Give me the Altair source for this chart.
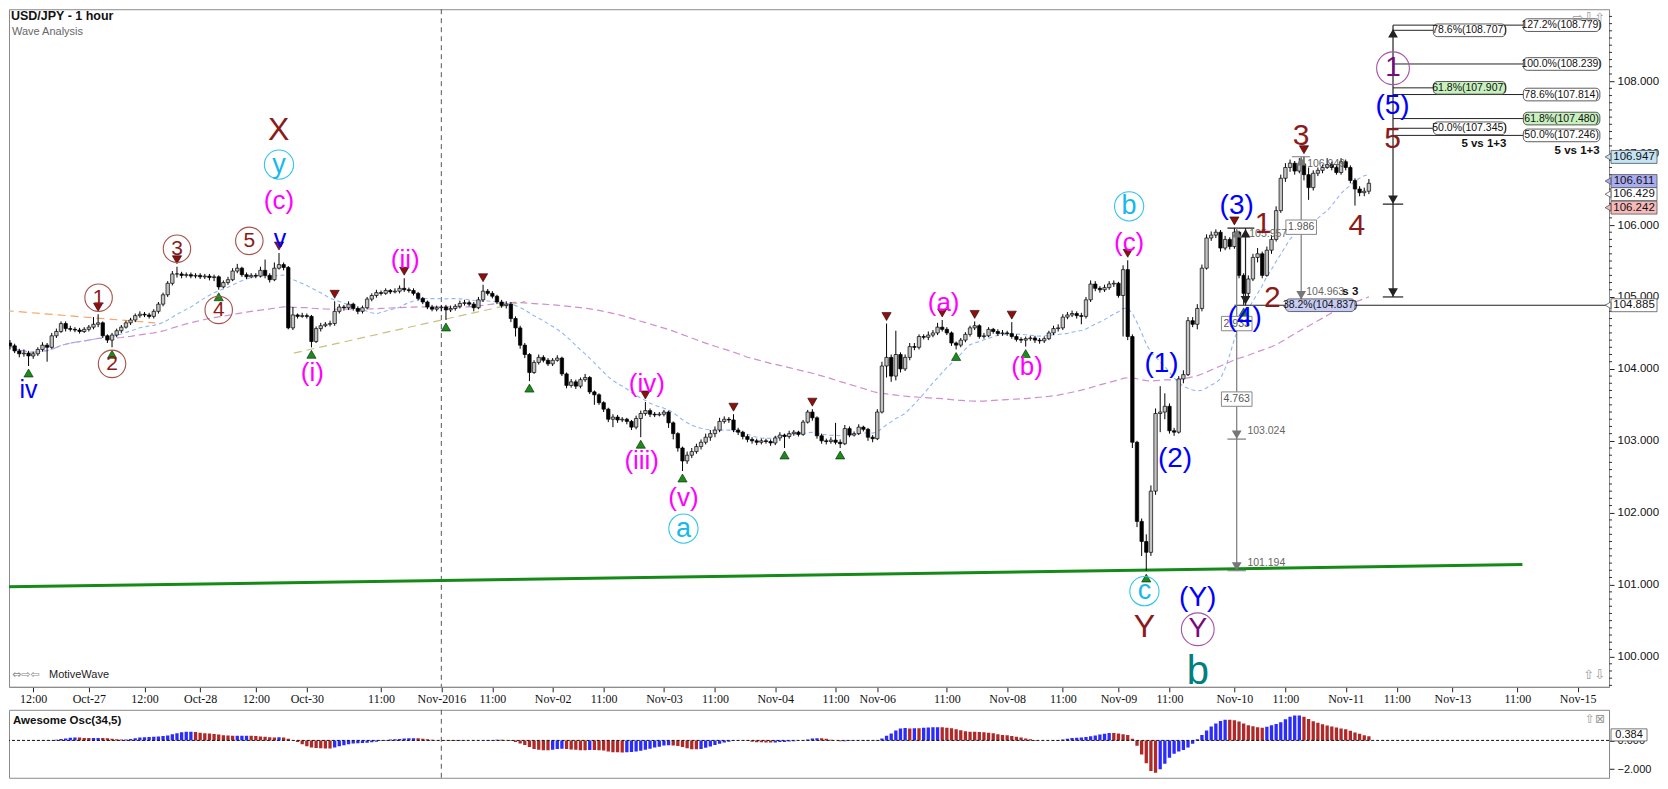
import altair as alt
import pandas as pd

W, H1, H2 = 1601, 678, 68
XDOM = [0.86, 343.7]
YDOM = [99.58, 109.0]
ODOM = [-2.6, 2.13]
FONT = "Liberation Sans"

# ---------------- candle data (hourly bars) ----------------
first_open = 104.36
closes = [
    104.32, 104.25, 104.21, 104.22, 104.18, 104.21, 104.27, 104.33, 104.30, 104.46,
    104.52, 104.63, 104.56, 104.55, 104.54, 104.52, 104.55, 104.58, 104.62, 104.64,
    104.46, 104.40, 104.47, 104.53, 104.58, 104.64, 104.68, 104.74, 104.76, 104.75,
    104.73, 104.80, 104.90, 105.03, 105.19, 105.32, 105.32, 105.30, 105.31, 105.29,
    105.30, 105.28, 105.29, 105.27, 105.28, 105.14, 105.20, 105.24, 105.36, 105.40,
    105.31, 105.28, 105.30, 105.29, 105.37, 105.30, 105.24, 105.40, 105.45, 105.41,
    104.57, 104.75, 104.73, 104.74, 104.73, 104.38, 104.56, 104.60, 104.62, 104.63,
    104.80, 104.86, 104.85, 104.90, 104.84, 104.80, 104.85, 104.97, 105.02, 105.06,
    105.05, 105.09, 105.07, 105.08, 105.12, 105.10, 105.09, 105.05, 104.98, 104.93,
    104.86, 104.83, 104.85, 104.86, 104.82, 104.84, 104.87, 104.91, 104.92, 104.90,
    104.85, 104.96, 105.08, 105.05, 105.01, 104.93, 104.88, 104.90, 104.70, 104.57,
    104.33, 104.20, 103.95, 104.09, 104.16, 104.12, 104.07, 104.12, 104.15, 103.93,
    103.77, 103.82, 103.76, 103.85, 103.88, 103.68, 103.64, 103.53, 103.44, 103.30,
    103.33, 103.29, 103.30, 103.27, 103.19, 103.31, 103.38, 103.42, 103.37, 103.36,
    103.37, 103.40, 103.25, 103.10, 102.90, 102.72, 102.80, 102.85, 102.92, 102.98,
    103.05, 103.10, 103.15, 103.27, 103.30, 103.29, 103.15, 103.12, 103.06, 103.02,
    103.00, 102.98, 103.00, 102.99, 102.97, 103.04, 103.08, 103.06, 103.10, 103.12,
    103.09, 103.26, 103.40, 103.32, 103.07, 103.00, 102.99, 103.01, 102.98, 102.96,
    103.17, 103.08, 103.10, 103.19, 103.16, 103.05, 103.03, 103.40, 104.04, 104.16,
    103.90, 104.20, 104.00, 104.16, 104.31, 104.30, 104.45, 104.44, 104.47, 104.50,
    104.58, 104.55, 104.50, 104.36, 104.33, 104.40, 104.48, 104.57, 104.60, 104.45,
    104.46, 104.55, 104.52, 104.49, 104.50, 104.49, 104.45, 104.41, 104.40, 104.42,
    104.43, 104.40, 104.39, 104.42, 104.50, 104.56, 104.57, 104.72, 104.75, 104.77,
    104.74, 104.73, 104.96, 105.18, 105.12, 105.10, 105.13, 105.18, 105.19, 105.02,
    105.38, 104.45, 102.98, 101.88, 101.60, 101.45, 102.30, 103.38, 103.40, 103.48,
    103.14, 103.12, 103.86, 103.92, 104.67, 104.62, 104.84, 105.40, 105.82, 105.86,
    105.90, 105.68, 105.80, 105.70, 105.90, 105.30, 105.05, 105.25, 105.55, 105.60,
    105.30, 105.65, 105.80, 106.20, 106.65, 106.80, 106.86, 106.75, 106.85, 106.70,
    106.52, 106.72, 106.76, 106.80, 106.84, 106.80, 106.73, 106.88, 106.80, 106.62,
    106.50, 106.45, 106.47, 106.58,
]
highs = [
    104.40, 104.35, 104.28, 104.27, 104.25, 104.24, 104.30, 104.37, 104.36, 104.50,
    104.56, 104.66, 104.66, 104.60, 104.58, 104.57, 104.58, 104.61, 104.72, 104.76,
    104.66, 104.48, 104.50, 104.56, 104.61, 104.67, 104.71, 104.77, 104.80, 104.79,
    104.78, 104.83, 104.93, 105.06, 105.22, 105.36, 105.42, 105.35, 105.34, 105.34,
    105.33, 105.33, 105.32, 105.32, 105.31, 105.30, 105.23, 105.28, 105.40, 105.46,
    105.42, 105.34, 105.33, 105.33, 105.42, 105.52, 105.33, 105.48, 105.61, 105.48,
    105.43, 104.86, 104.77, 104.78, 104.77, 104.75, 104.59, 104.64, 104.65, 104.67,
    104.94, 104.90, 104.89, 104.94, 104.92, 104.87, 104.88, 105.00, 105.05, 105.10,
    105.09, 105.12, 105.11, 105.12, 105.16, 105.26, 105.13, 105.12, 105.07, 105.00,
    104.95, 104.89, 104.88, 104.89, 104.89, 104.88, 104.90, 104.95, 104.96, 104.95,
    104.93, 105.00, 105.17, 105.11, 105.08, 105.03, 104.96, 104.94, 104.93, 104.73,
    104.60, 104.36, 104.22, 104.12, 104.20, 104.19, 104.15, 104.15, 104.19, 104.17,
    103.95, 103.86, 103.85, 103.88, 103.93, 103.90, 103.70, 103.66, 103.55, 103.46,
    103.37, 103.36, 103.33, 103.32, 103.29, 103.35, 103.42, 103.54, 103.45, 103.40,
    103.40, 103.43, 103.42, 103.27, 103.12, 102.92, 102.85, 102.90, 102.96, 103.02,
    103.10, 103.15, 103.20, 103.32, 103.34, 103.33, 103.37, 103.18, 103.14, 103.09,
    103.05, 103.03, 103.03, 103.03, 103.02, 103.07, 103.12, 103.10, 103.14, 103.15,
    103.14, 103.29, 103.43, 103.44, 103.34, 103.10, 103.03, 103.05, 103.25, 103.02,
    103.22, 103.20, 103.13, 103.23, 103.21, 103.18, 103.08, 103.44, 104.10, 104.63,
    104.20, 104.53, 104.23, 104.20, 104.36, 104.36, 104.48, 104.48, 104.52, 104.54,
    104.64, 104.68, 104.58, 104.52, 104.38, 104.43, 104.51, 104.60, 104.66, 104.62,
    104.50, 104.58, 104.57, 104.55, 104.54, 104.53, 104.65, 104.48, 104.44, 104.45,
    104.46, 104.46, 104.43, 104.45, 104.53, 104.60, 104.62, 104.76, 104.79, 104.81,
    104.80, 104.78, 105.00, 105.23, 105.22, 105.15, 105.17, 105.22, 105.23, 105.21,
    105.44, 105.51, 104.48, 103.00, 101.92, 101.70, 102.38, 103.45, 103.76, 103.66,
    103.52, 103.18, 103.90, 103.98, 104.72, 104.72, 104.90, 105.45, 105.87, 105.91,
    105.94, 105.93, 105.85, 105.83, 105.96, 105.92, 105.33, 105.30, 105.60, 105.68,
    105.63, 105.70, 105.86, 106.26, 106.70, 106.86, 106.91, 106.89, 106.93, 106.95,
    106.80, 106.76, 106.80, 106.84, 106.93, 106.88, 106.83, 106.93, 106.91, 106.83,
    106.65, 106.54, 106.52, 106.64,
]
lows = [
    104.27, 104.22, 104.16, 104.17, 104.04, 104.14, 104.18, 104.24, 104.10, 104.28,
    104.43, 104.50, 104.52, 104.52, 104.51, 104.49, 104.50, 104.52, 104.55, 104.58,
    104.43, 104.36, 104.30, 104.44, 104.50, 104.56, 104.61, 104.65, 104.71, 104.72,
    104.70, 104.70, 104.77, 104.87, 105.00, 105.16, 105.27, 105.26, 105.27, 105.26,
    105.26, 105.25, 105.25, 105.23, 105.22, 105.10, 105.12, 105.17, 105.22, 105.33,
    105.28, 105.25, 105.26, 105.26, 105.27, 105.26, 105.20, 105.22, 105.38, 105.37,
    104.55, 104.54, 104.70, 104.71, 104.70, 104.30, 104.36, 104.52, 104.58, 104.59,
    104.60, 104.77, 104.81, 104.82, 104.81, 104.76, 104.77, 104.83, 104.94, 104.99,
    105.02, 105.03, 105.04, 105.05, 105.05, 105.07, 105.06, 105.02, 104.95, 104.90,
    104.83, 104.80, 104.80, 104.80, 104.68, 104.79, 104.81, 104.84, 104.88, 104.87,
    104.80, 104.83, 104.93, 105.02, 104.98, 104.90, 104.85, 104.84, 104.65, 104.45,
    104.28, 104.15, 103.83, 103.93, 104.06, 104.09, 104.04, 104.04, 104.10, 103.90,
    103.73, 103.74, 103.72, 103.73, 103.82, 103.65, 103.50, 103.50, 103.40, 103.26,
    103.19, 103.25, 103.26, 103.23, 103.15, 103.16, 103.05, 103.35, 103.33, 103.33,
    103.34, 103.34, 103.18, 103.02, 102.85, 102.58, 102.68, 102.76, 102.82, 102.88,
    102.95, 103.00, 103.05, 103.12, 103.24, 103.25, 103.12, 103.08, 103.02, 102.98,
    102.96, 102.94, 102.95, 102.96, 102.93, 102.94, 103.00, 102.90, 103.03, 103.07,
    103.06, 103.07, 103.24, 103.28, 103.03, 102.96, 102.95, 102.96, 102.95, 102.90,
    102.94, 103.05, 103.06, 103.08, 103.13, 103.00, 102.98, 103.01, 103.38, 103.88,
    103.82, 103.84, 103.95, 103.97, 104.12, 104.26, 104.27, 104.41, 104.40, 104.44,
    104.47, 104.52, 104.47, 104.32, 104.27, 104.30, 104.37, 104.45, 104.54, 104.42,
    104.42, 104.44, 104.49, 104.46, 104.46, 104.46, 104.42, 104.38, 104.36, 104.31,
    104.39, 104.36, 104.35, 104.36, 104.40, 104.47, 104.52, 104.54, 104.69, 104.72,
    104.70, 104.62, 104.70, 104.93, 105.08, 105.06, 105.07, 105.10, 105.14, 104.99,
    104.45, 104.40, 102.90, 101.80, 101.40, 101.19, 101.40, 102.25, 103.12, 103.30,
    103.10, 103.07, 103.10, 103.80, 103.90, 104.58, 104.55, 104.80, 105.38, 105.78,
    105.82, 105.63, 105.65, 105.66, 105.67, 105.26, 104.89, 105.00, 105.22, 105.48,
    105.26, 105.28, 105.60, 105.77, 106.17, 106.60, 106.74, 106.70, 106.72, 106.62,
    106.35, 106.48, 106.68, 106.72, 106.78, 106.76, 106.70, 106.70, 106.76, 106.58,
    106.27, 106.40, 106.40, 106.43,
]
opens = [first_open] + closes[:-1]
candles = pd.DataFrame({"i": list(range(len(closes))), "open": opens,
                        "high": highs, "low": lows, "close": closes})

# time axis ticks (bar index -> label)
tick_idx = [5, 17, 29, 41, 53, 64, 80, 93, 104, 117, 128, 141, 152, 165, 178, 187,
            202, 215, 227, 239, 250, 264, 275, 288, 299, 311, 325, 338]
tick_lbl = ["12:00", "Oct-27", "12:00", "Oct-28", "12:00", "Oct-30", "11:00", "Nov-2016",
            "11:00", "Nov-02", "11:00", "Nov-03", "11:00", "Nov-04", "11:00", "Nov-06",
            "11:00", "Nov-08", "11:00", "Nov-09", "11:00", "Nov-10", "11:00", "Nov-11",
            "11:00", "Nov-13", "11:00", "Nov-15"]
month_break = [93]

pivot_highs = [19, 36, 58, 70, 85, 102, 137, 156, 173, 189, 201, 208, 216, 241, 264, 279]
pivot_lows = [4, 22, 45, 65, 94, 112, 136, 145, 167, 179, 204, 219, 245, 266]

# trend lines (bar index, price)
green_i = [-0.9, 326.1]
green_p = [100.97, 101.28]
orange_i = [-0.9, 31.3]
orange_p = [104.81, 104.64]
khaki_i = [61.2, 111.1]
khaki_p = [104.22, 104.94]

# wave labels
ann_text = ["X", "y", "(c)", "v", "1", "2", "3", "4", "5", "iv", "(i)", "(ii)", "(iii)", "(iv)",
            "(v)", "a", "(a)", "(b)", "b", "(c)", "c", "Y", "(Y)", "Y", "b", "(1)", "(2)", "(3)",
            "1", "(4)", "2", "3", "4", "(5)", "5", "1"]
ann_i = [57.9, 58, 58, 58.2, 19.1, 22, 36, 45, 51.6, 4, 65.2, 85.2, 136.2, 137.3, 145.2, 145.2,
         201.3, 219.3, 241.3, 241.3, 244.6, 244.6, 256.1, 256.1, 256.1, 248.3, 251.2, 264.5,
         270.2, 266.2, 272.2, 278.4, 290.4, 298.1, 298.1, 298.2]
ann_p = [107.32, 106.84, 106.33, 105.81, 104.99, 104.07, 105.67, 104.82, 105.78, 103.70, 103.94,
         105.52, 102.72, 103.79, 102.21, 101.78, 104.92, 104.02, 106.26, 105.75, 100.91, 100.41,
         100.82, 100.38, 99.78, 104.07, 102.75, 106.26, 106.01, 104.71, 104.99, 107.24, 105.99,
         107.65, 107.19, 108.18]
ann_kind = ["red_big", "cyan_c", "mag", "blue_s", "red_c", "red_c", "red_c", "red_c", "red_c",
            "blue_s", "mag", "mag", "mag", "mag", "mag", "cyan_c", "mag", "mag", "cyan_c", "mag",
            "cyan_c", "red_big", "blue", "purple_c", "teal", "blue", "blue", "blue", "red_num",
            "blue", "red_num", "red_num", "red_num", "blue", "red_num", "purple_c"]

# fibonacci levels
fib_levels = [108.779, 108.707, 108.239, 107.907, 107.814, 107.480, 107.345, 107.246]
fib_text = ["127.2%(108.779)", "78.6%(108.707)", "100.0%(108.239)", "61.8%(107.907)",
            "78.6%(107.814)", "61.8%(107.480)", "50.0%(107.345)", "50.0%(107.246)"]
fib_group = ["R", "L", "R", "L", "R", "R", "L", "R"]

# measurement tool segments
seg_i = [298.2, 296.0, 296.0, 266.4, 262.5, 264.5, 262.5, 262.5, 278.4, 276.4, 275.6, 264.0]
seg_p = [105.00, 106.29, 105.00, 104.885, 105.957, 101.194, 103.024, 101.194, 104.963, 106.949, 104.963, 104.885]
seg_i2 = [298.2, 300.4, 300.4, 266.4, 268.3, 264.5, 266.5, 266.5, 278.4, 280.3, 281.2, 345.5]
seg_p2 = [108.779, 106.29, 105.00, 105.957, 105.957, 105.957, 103.024, 101.194, 106.949, 106.949, 104.963, 104.885]
seg_kind = ["k", "k", "k", "k", "k", "g", "g", "g", "g", "g", "g", "k"]

arr_i = [298.2, 298.2, 298.2, 266.4, 266.4, 264.5, 264.5, 264.5, 278.4, 278.4]
arr_p = [108.66, 106.36, 105.07, 105.88, 104.96, 105.88, 103.09, 101.26, 106.88, 105.03]
arr_dir = ["up", "down", "down", "up", "down", "up", "down", "down", "up", "down"]
arr_kind = ["k", "k", "k", "k", "k", "g", "g", "g", "g", "g"]

mbox_text = ["2.933", "4.763", "1.986"]
mbox_i = [264.5, 264.5, 278.4]
mbox_p = [104.63, 103.58, 105.97]

gtext_text = ["105.957", "106.949", "104.963", "103.024", "101.194"]
gtext_i = [267.2, 279.7, 279.5, 266.8, 266.8]
gtext_p = [105.87, 106.85, 105.07, 103.13, 101.30]

btext_text = ["s 3", "5 vs 1+3", "5 vs 1+3"]
btext_i = [289.0, 317.8, 337.9]
btext_p = [105.07, 107.13, 107.03]

retrace_text = ["38.2%(104.837)"]
retrace_i = [275.0]
retrace_i2 = [290.0]
retrace_p = [104.885]

axis_tag_text = ["106.947", "106.611", "106.429", "106.242", "104.885"]
axis_tag_p = [106.947, 106.611, 106.429, 106.242, 104.885]
axis_tag_kind = ["blue", "violet", "white", "pink", "white"]

ao_last = 0.384

# ---------------- scales / axes ----------------
label_expr = ("[" + ",".join("'%s'" % s for s in tick_lbl) + "][indexof(["
              + ",".join(str(v) for v in tick_idx) + "], datum.value)]")
x_axis = alt.Axis(values=tick_idx, labelExpr=label_expr, title=None, grid=False,
                  labelOverlap=False, labelFlush=False, tickSize=5, tickColor="#222",
                  domainColor="#8a8a8a", labelFont="Liberation Sans Narrow", labelFontSize=12,
                  labelColor="#111", labelPadding=2)
y_axis = alt.Axis(orient="right", values=list(range(100, 109)), format=".3f", title=None,
                  grid=False, tickSize=5, tickColor="#222", domainColor="#8a8a8a",
                  labelFont=FONT, labelFontSize=11.5, labelColor="#111", labelPadding=3)
xs = alt.Scale(domain=XDOM, nice=False, zero=False)
ys = alt.Scale(domain=YDOM, nice=False, zero=False)


def X(f="i"):
    return alt.X(f"{f}:Q", scale=xs, axis=x_axis)


def Y(f="p"):
    return alt.Y(f"{f}:Q", scale=ys, axis=y_axis)


layers = []

# month separator
layers.append(alt.Chart(pd.DataFrame({"i": month_break})).mark_rule(
    color="#555", strokeDash=[5, 4], strokeWidth=1).encode(x=X()))

# trend lines
for li, lp, col, dash, sw in [(green_i, green_p, "#168a16", None, 3),
                               (orange_i, orange_p, "#f5a66a", [8, 5], 1.2),
                               (khaki_i, khaki_p, "#c9c27e", [8, 5], 1.2)]:
    kw = dict(color=col, strokeWidth=sw, clip=True)
    if dash:
        kw["strokeDash"] = dash
    layers.append(alt.Chart(pd.DataFrame({"i": li, "p": lp})).mark_line(**kw).encode(x=X(), y=Y()))

base = alt.Chart(candles)
# moving averages
layers.append(base.transform_window(ma="mean(close)", frame=[-99, 0], sort=[{"field": "i"}])
              .mark_line(color="#cf8fcf", strokeWidth=1.2, strokeDash=[7, 4], clip=True)
              .encode(x=X(), y=Y("ma")))
layers.append(base.transform_window(ma="mean(close)", frame=[-19, 0], sort=[{"field": "i"}])
              .mark_line(color="#92b5f5", strokeWidth=1.1, strokeDash=[4, 3], clip=True)
              .encode(x=X(), y=Y("ma")))

# candles
layers.append(base.mark_rule(color="#000", strokeWidth=1, clip=True)
              .encode(x=X(), y=Y("low"), y2="high:Q"))
layers.append(base.transform_calculate(up="datum.close >= datum.open")
              .mark_bar(size=3.4, stroke="#000", strokeWidth=0.7, clip=True)
              .encode(x=X(), y=Y("open"), y2="close:Q",
                      fill=alt.condition("datum.up", alt.value("#c2c2c2"), alt.value("#000000"))))

# pivot triangles
layers.append(base.transform_filter(alt.FieldOneOfPredicate(field="i", oneOf=pivot_highs))
              .mark_point(shape="triangle-down", filled=True, size=85, fill="#8b1010",
                          stroke="#2a0000", strokeWidth=0.6, opacity=1, yOffset=-7)
              .encode(x=X(), y=Y("high")))
layers.append(base.transform_filter(alt.FieldOneOfPredicate(field="i", oneOf=pivot_lows))
              .mark_point(shape="triangle-up", filled=True, size=85, fill="#1c8a1c",
                          stroke="#002a00", strokeWidth=0.6, opacity=1, yOffset=7)
              .encode(x=X(), y=Y("low")))

# measurement segments
seg = pd.DataFrame({"i": seg_i, "p": seg_p, "i2": seg_i2, "p2": seg_p2, "k": seg_kind})
for k, col in [("k", "#222"), ("g", "#7a7a7a")]:
    layers.append(alt.Chart(seg[seg.k == k]).mark_rule(color=col, strokeWidth=1.2, clip=True)
                  .encode(x=X(), y=Y(), x2="i2:Q", y2="p2:Q"))
arr = pd.DataFrame({"i": arr_i, "p": arr_p, "d": arr_dir, "k": arr_kind})
for k, col in [("k", "#222"), ("g", "#777")]:
    for d, shp in [("up", "triangle-up"), ("down", "triangle-down")]:
        sub = arr[(arr.k == k) & (arr.d == d)]
        if len(sub):
            layers.append(alt.Chart(sub).mark_point(shape=shp, filled=True, size=40, fill=col,
                                                    stroke=col, opacity=1).encode(x=X(), y=Y()))

# fib levels
fib = pd.DataFrame({"lvl": fib_levels, "txt": fib_text, "grp": fib_group})
fibb = alt.Chart(fib).transform_calculate(
    s0="298.2",
    x0="datum.grp == 'L' ? 306.9 : 326.3",
    x1="datum.grp == 'L' ? 322.5 : 342.8",
    xm="datum.grp == 'L' ? 314.7 : 334.55",
    lo="datum.lvl - 0.088", hi="datum.lvl + 0.088",
    green="indexof(datum.txt, '61.8') == 0")
layers.append(fibb.mark_rule(color="#222", strokeWidth=1).encode(x=X("s0"), x2="x0:Q", y=Y("lvl")))
layers.append(fibb.mark_rect(cornerRadius=4, stroke="#333", strokeWidth=0.8)
              .encode(x=X("x0"), x2="x1:Q", y=Y("lo"), y2="hi:Q",
                      fill=alt.condition("datum.green", alt.value("#c8f0bf"), alt.value("#ffffff"))))
layers.append(fibb.mark_text(font=FONT, fontSize=10.5, color="#111")
              .encode(x=X("xm"), y=Y("lvl"), text="txt:N"))

# 38.2% retrace tag
r38 = pd.DataFrame({"i": retrace_i, "i2": retrace_i2, "p": retrace_p, "t": retrace_text})
r38b = alt.Chart(r38).transform_calculate(lo="datum.p - 0.088", hi="datum.p + 0.088",
                                          xm="(datum.i + datum.i2) / 2")
layers.append(r38b.mark_rect(cornerRadius=4, stroke="#445", strokeWidth=0.8, fill="#c6ccf3")
              .encode(x=X(), x2="i2:Q", y=Y("lo"), y2="hi:Q"))
layers.append(r38b.mark_text(font=FONT, fontSize=10.5, color="#111")
              .encode(x=X("xm"), y=Y(), text="t:N"))

# measurement value boxes
mb = alt.Chart(pd.DataFrame({"i": mbox_i, "p": mbox_p, "t": mbox_text})).transform_calculate(
    x0="datum.i - 3.3", x1="datum.i + 3.3", lo="datum.p - 0.1", hi="datum.p + 0.1")
layers.append(mb.mark_rect(stroke="#888", strokeWidth=1, fill="#ffffff")
              .encode(x=X("x0"), x2="x1:Q", y=Y("lo"), y2="hi:Q"))
layers.append(mb.mark_text(font=FONT, fontSize=10.5, color="#555").encode(x=X(), y=Y(), text="t:N"))

layers.append(alt.Chart(pd.DataFrame({"i": gtext_i, "p": gtext_p, "t": gtext_text}))
              .mark_text(font=FONT, fontSize=10.5, color="#666", align="left")
              .encode(x=X(), y=Y(), text="t:N"))
layers.append(alt.Chart(pd.DataFrame({"i": btext_i, "p": btext_p, "t": btext_text}))
              .mark_text(font=FONT, fontSize=11.5, fontWeight="bold", color="#111", align="center")
              .encode(x=X(), y=Y(), text="t:N"))

# wave labels
styles = {
    "red_big": dict(color="#8b1a1a", size=32),
    "red_c": dict(color="#8b1a1a", size=21, circle="#a8504a", d=31),
    "red_num": dict(color="#8b1a1a", size=30),
    "mag": dict(color="#ff00ff", size=26),
    "cyan_c": dict(color="#16b8ee", size=27, circle="#33c4f0", d=33),
    "blue_s": dict(color="#0000ff", size=25),
    "blue": dict(color="#0000ff", size=28),
    "purple_c": dict(color="#7a0a7a", size=28, circle="#a555a5", d=37),
    "teal": dict(color="#008080", size=40),
}
ann = pd.DataFrame({"t": ann_text, "i": ann_i, "p": ann_p, "k": ann_kind})
for k, st in styles.items():
    sub = ann[ann.k == k]
    if "circle" in st:
        layers.append(alt.Chart(sub).mark_point(shape="circle", filled=False, opacity=1,
                                                size=3.1416 * (st["d"] / 2) ** 2,
                                                stroke=st["circle"], strokeWidth=1.1)
                      .encode(x=X(), y=Y()))
    layers.append(alt.Chart(sub).mark_text(font=FONT, fontSize=st["size"], color=st["color"],
                                           align="center", baseline="middle")
                  .encode(x=X(), y=Y(), text="t:N"))

# minor price ticks
minor = [k / 10 for k in range(996, 1090) if k % 10 != 0]
layers.append(alt.Chart(pd.DataFrame({"p": minor})).mark_rule(color="#333", strokeWidth=1)
              .encode(x=alt.value(W), x2=alt.value(W + 3), y=Y()))

# axis price tags
tag_fill = {"blue": "#c4e4f6", "violet": "#aaacf2", "white": "#ffffff", "pink": "#f5b9b9"}
tags = pd.DataFrame({"t": axis_tag_text, "p": axis_tag_p, "k": axis_tag_kind})
tags["f"] = tags["k"].map(tag_fill)
tagb = alt.Chart(tags).transform_calculate(lo="datum.p - 0.09", hi="datum.p + 0.09")
layers.append(tagb.mark_rect(stroke="#555", strokeWidth=0.8)
              .encode(x=alt.value(W + 2), x2=alt.value(W + 48), y=Y("lo"), y2="hi:Q",
                      fill=alt.Fill("f:N", scale=None)))
layers.append(tagb.mark_point(shape="triangle-left", filled=True, size=45, stroke="#555",
                              strokeWidth=0.8, opacity=1)
              .encode(x=alt.value(W - 1), y=Y(), fill=alt.Fill("f:N", scale=None)))
layers.append(tagb.mark_text(font=FONT, fontSize=11.5, color="#111", align="center")
              .encode(x=alt.value(W + 25), y=Y(), text="t:N"))


# header / footer texts
def px_text(t, x, y, size, color="#222", weight="normal", align="left", font=FONT):
    return alt.Chart(pd.DataFrame({"t": [t]})).mark_text(
        font=font, fontSize=size, color=color, fontWeight=weight, align=align,
        baseline="middle").encode(x=alt.value(x), y=alt.value(y), text="t:N")


layers.append(px_text("USD/JPY - 1 hour", 2, 7, 12.5, "#111", weight="bold"))
layers.append(px_text("Wave Analysis", 3, 23, 11, "#666"))
layers.append(px_text("⇨⇩⇧", W - 4, 9, 13, "#999", align="right", font="DejaVu Sans"))
layers.append(px_text("⇧⇩", W - 4, H1 - 12, 13, "#999", align="right", font="DejaVu Sans"))
layers.append(px_text("⇔⇨⇦", 3, H1 - 12, 11, "#888", font="DejaVu Sans"))
layers.append(px_text("MotiveWave", 40, H1 - 12, 11, "#222"))

price = alt.layer(*layers).properties(width=W, height=H1)

# ---------------- awesome oscillator ----------------
os_ = alt.Scale(domain=ODOM, nice=False, zero=False)
o_axis = alt.Axis(orient="right", values=[0, -2], format=".3f", title=None, grid=False,
                  tickSize=5, tickColor="#222", domainColor="#8a8a8a", labelFont=FONT,
                  labelFontSize=11, labelColor="#111", labelPadding=3)
ox = alt.X("i:Q", scale=xs, axis=None)

olayers = []
olayers.append(alt.Chart(pd.DataFrame({"i": month_break})).mark_rule(
    color="#555", strokeDash=[5, 4], strokeWidth=1).encode(x=ox))
ao = (alt.Chart(candles)
      .transform_calculate(med="(datum.high + datum.low) / 2")
      .transform_window(s5="mean(med)", frame=[-4, 0], sort=[{"field": "i"}])
      .transform_window(s34="mean(med)", frame=[-33, 0], sort=[{"field": "i"}])
      .transform_calculate(ao="datum.s5 - datum.s34")
      .transform_window(prev="lag(ao)", sort=[{"field": "i"}])
      .transform_calculate(rising="datum.prev == null || datum.ao >= datum.prev"))
olayers.append(ao.mark_bar(size=3.3, clip=True)
               .encode(x=ox, y=alt.Y("ao:Q", scale=os_, axis=o_axis), y2=alt.datum(0),
                       fill=alt.condition("datum.rising", alt.value("#2b2bff"), alt.value("#b02828"))))
olayers.append(alt.Chart(pd.DataFrame({"v": [0]})).mark_rule(color="#111", strokeDash=[3, 2])
               .encode(y=alt.Y("v:Q", scale=os_, axis=o_axis)))
aol = alt.Chart(pd.DataFrame({"v": [ao_last], "t": ["%.3f" % ao_last]})).transform_calculate(
    lo="datum.v - 0.42", hi="datum.v + 0.42")
olayers.append(aol.mark_rect(stroke="#555", strokeWidth=0.8, fill="#ffffff")
               .encode(x=alt.value(W + 2), x2=alt.value(W + 38),
                       y=alt.Y("lo:Q", scale=os_, axis=o_axis), y2="hi:Q"))
olayers.append(aol.mark_text(font=FONT, fontSize=11, color="#111", align="center")
               .encode(x=alt.value(W + 20), y=alt.Y("v:Q", scale=os_, axis=o_axis), text="t:N"))
olayers.append(px_text("Awesome Osc(34,5)", 4, 11, 11.5, "#111", weight="bold"))
olayers.append(px_text("⇧⊠", W - 4, 9, 12, "#999", align="right", font="DejaVu Sans"))

osc = alt.layer(*olayers).properties(width=W, height=H2)

chart = (alt.vconcat(price, osc, spacing=3)
         .properties(padding=0, background="white")
         .configure_view(stroke="#8a8a8a", strokeWidth=1))

chart.save("out.html", embed_options={"renderer": "svg", "actions": False})
